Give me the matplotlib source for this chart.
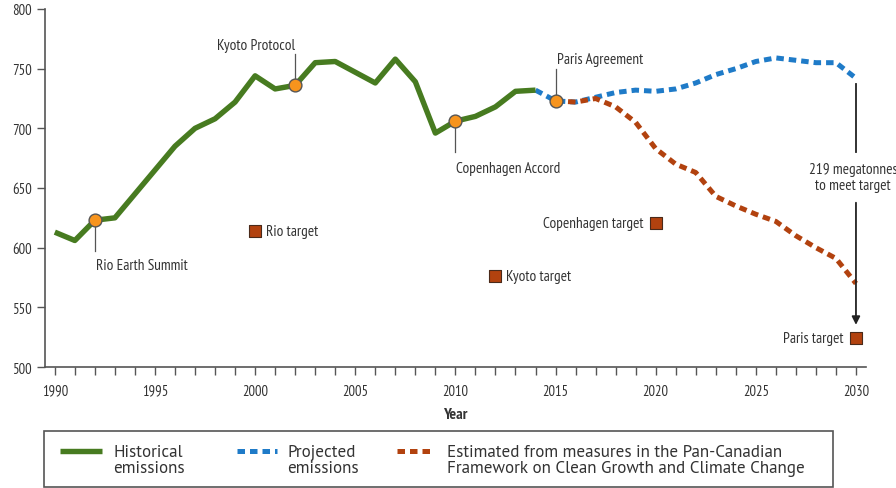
import matplotlib
matplotlib.use("Agg")
import matplotlib.pyplot as plt
from matplotlib.lines import Line2D
from matplotlib.patches import Rectangle
from matplotlib import font_manager

fams = {f.name for f in font_manager.fontManager.ttflist}

def pick(cands, default="DejaVu Sans"):
    for c in cands:
        if c in fams:
            return c
    return default

FONT = pick(["PT Sans Narrow", "Fira Sans Condensed", "Roboto Condensed", "Open Sans Condensed",
             "Liberation Sans Narrow", "Roboto"])
LEGFONT = pick(["PT Sans", "Fira Sans", "Open Sans", "Noto Sans"])
plt.rcParams['font.family'] = [FONT, 'DejaVu Sans']

hist_years = list(range(1990, 2015))
hist_vals = [613, 606, 623, 625, 645, 665, 685, 700, 708, 722, 744, 733, 736, 755, 756,
             747, 738, 758, 739, 696, 706, 710, 718, 731, 732]

proj_years = list(range(2014, 2031))
proj_vals = [732, 723, 722, 726, 730, 732, 731, 733, 738, 745, 750, 756, 759, 757, 755, 755, 742]

est_years = list(range(2015, 2031))
est_vals = [723, 722, 725, 718, 705, 683, 670, 663, 643, 635, 628, 622, 610, 600, 591, 570]

event_years = [1992, 2002, 2010, 2015]
event_vals = [623, 736, 706, 723]
event_labels = ["Rio Earth Summit", "Kyoto Protocol", "Copenhagen Accord", "Paris Agreement"]
event_label_y = [591, 764, 673, 752]
event_line_end = [597, 762, 680, 750]
event_align = ["left", "right", "left", "left"]

target_years = [2000, 2012, 2020, 2030]
target_vals = [614, 576, 621, 524]
target_labels = ["Rio target", "Kyoto target", "Copenhagen target", "Paris target"]
target_side = ["right", "right", "left", "left"]

gap_text = "219 megatonnes\nto meet target"

legend_labels = ["Historical\nemissions", "Projected\nemissions",
                 "Estimated from measures in the Pan-Canadian\nFramework on Clean Growth and Climate Change"]

GREEN = "#477b20"
BLUE = "#1f7bc8"
RED = "#b2420f"
ORANGE = "#f7941d"
TXT = "#333333"
FS = 11

fig = plt.figure(figsize=(8.96, 4.89), dpi=100)
ax = fig.add_axes([0.050, 0.2474, 0.9165, 0.7322])

DASH = (0, (1.5, 1.0))
ax.plot(proj_years, proj_vals, color=BLUE, lw=3.6, ls=DASH, zorder=3)
ax.plot(est_years, est_vals, color=RED, lw=3.6, ls=DASH, zorder=3)
ax.plot(hist_years, hist_vals, color=GREEN, lw=3.9, solid_capstyle='butt', zorder=4)

# event annotations
for yr, v, lab, ly, le, al in zip(event_years, event_vals, event_labels, event_label_y,
                                  event_line_end, event_align):
    dx = 0.05 if al == "left" else 0.02
    ax.plot([yr, yr], [v, le], color="#555555", lw=0.9, zorder=2)
    va = 'bottom' if ly > v else 'top'
    ax.text(yr + dx, ly, lab, ha=al, va=va, fontsize=FS, color=TXT)
ax.scatter(event_years, event_vals, s=85, color=ORANGE, edgecolor="#555555", lw=1.0, zorder=6)

# targets
ax.scatter(target_years, target_vals, s=70, marker='s', color=RED, edgecolor="#4a2a1a", lw=0.8, zorder=6)
for yr, v, lab, side in zip(target_years, target_vals, target_labels, target_side):
    if side == "right":
        ax.text(yr + 0.55, v, lab, ha='left', va='center', fontsize=FS, color=TXT)
    else:
        ax.text(yr - 0.6, v, lab, ha='right', va='center', fontsize=FS, color=TXT)

# gap annotation
ax.plot([2030, 2030], [proj_vals[-1] - 5, 680], color="#222222", lw=1.3, zorder=5)
ax.annotate("", xy=(2030, target_vals[-1] + 9), xytext=(2030, 640),
            arrowprops=dict(arrowstyle='-|>', color="#222222", lw=1.3, mutation_scale=12), zorder=5)
ax.text(2029.85, 659, gap_text, ha='center', va='center',
        fontsize=FS, color=TXT, linespacing=1.15, clip_on=False)

ax.set_xlim(1989.5, 2030.5)
ax.set_ylim(500, 800)
ax.set_xticks(range(1990, 2031, 5))
ax.set_xticks(range(1990, 2031), minor=True)
ax.set_yticks(range(500, 801, 50))
ax.tick_params(axis='both', colors="#555555", labelcolor=TXT, labelsize=10.5, length=6, width=1)
ax.tick_params(axis='x', which='both', pad=6)
ax.tick_params(axis='x', which='minor', length=6, width=1, colors="#555555")
for s in ("top", "right"):
    ax.spines[s].set_visible(False)
for s in ("left", "bottom"):
    ax.spines[s].set_color("#555555")
    ax.spines[s].set_linewidth(1.2)
ax.set_xlabel("Year", fontsize=11.5, fontweight='bold', color=TXT, labelpad=7)

# legend box (figure coordinates)
W, H = 896.0, 489.0
fig.patches.append(Rectangle((44 / W, 1 - 488 / H), (833 - 44) / W, (488 - 432) / H,
                             transform=fig.transFigure, facecolor='white',
                             edgecolor="#555555", lw=1.2))
hy = 1 - 452 / H
ty = 1 - 461 / H
styles = [dict(color=GREEN, lw=3.9, solid_capstyle='butt'),
          dict(color=BLUE, lw=3.6, ls=DASH),
          dict(color=RED, lw=3.6, ls=DASH)]
hx = [(60, 102), (237, 277), (397, 433)]
tx = [113, 287, 447]

# size legend font so the long label spans ~336 px as in the reference
probe = fig.text(0, 0, legend_labels[2].split("\n")[0], fontsize=10,
                 family=[LEGFONT, 'DejaVu Sans'])
fig.canvas.draw()
pw = probe.get_window_extent().width
probe.remove()
LFS = max(9.0, min(14.0, 10 * 336.0 / pw))

for (x0, x1), st, t, lab in zip(hx, styles, tx, legend_labels):
    fig.add_artist(Line2D([x0 / W, x1 / W], [hy, hy], transform=fig.transFigure, **st))
    fig.text(t / W, ty, lab, ha='left', va='center', fontsize=LFS, color=TXT,
             family=[LEGFONT, 'DejaVu Sans'], linespacing=1.02)

fig.savefig("out.png", dpi=100)
